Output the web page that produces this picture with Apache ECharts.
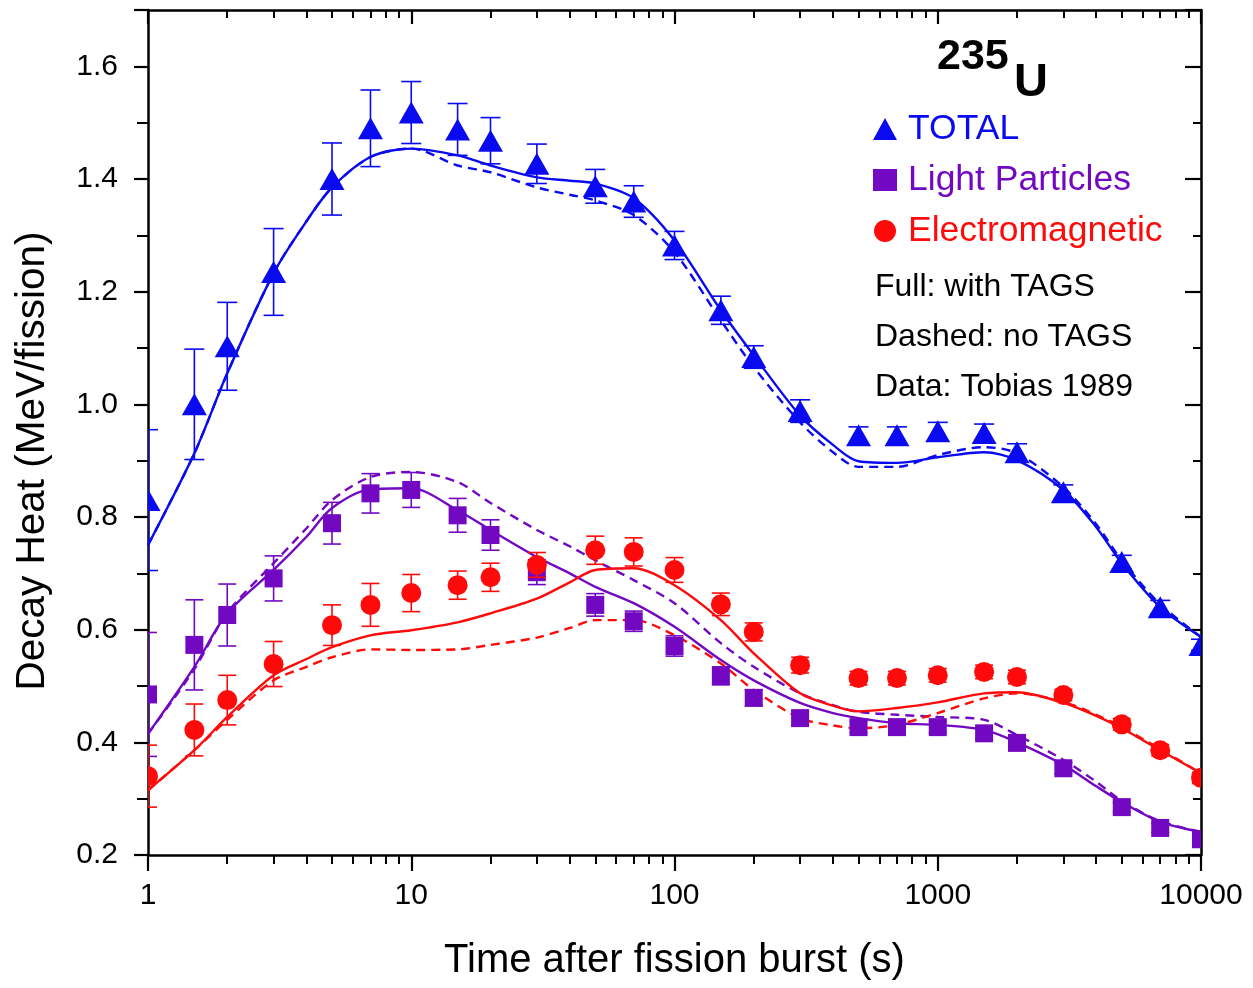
<!DOCTYPE html>
<html>
<head>
<meta charset="utf-8">
<script src="https://cdn.jsdelivr.net/npm/echarts@6/dist/echarts.min.js"></script>
<style>
html,body{margin:0;padding:0;background:#fff;}
#chart{width:1253px;height:988px;}
</style>
</head>
<body>
<div id="chart"></div>
<script>
// ---- data: measured points (Tobias 1989) ----
const tData = [1,1.5,2,3,5,7,10,15,20,30,50,70,100,150,200,300,500,700,1000,1500,2000,3000,5000,7000,10000];

const totalVal = [0.83,1.0,1.103,1.235,1.40,1.49,1.518,1.488,1.468,1.427,1.387,1.36,1.282,1.167,1.084,0.988,0.945,0.945,0.952,0.949,0.915,0.844,0.72,0.64,0.573];
const totalErr = [0.125,0.098,0.078,0.077,0.064,0.068,0.055,0.046,0.041,0.035,0.03,0.028,0.025,0.025,0.02,0.02,0.015,0.015,0.016,0.016,0.015,0.013,0.012,0.012,0.01];

const lpVal = [0.485,0.573,0.626,0.691,0.789,0.842,0.848,0.803,0.768,0.702,0.644,0.615,0.571,0.518,0.479,0.443,0.427,0.427,0.427,0.416,0.399,0.354,0.285,0.248,0.228];
const lpErr = [0.11,0.08,0.055,0.04,0.037,0.035,0.031,0.03,0.027,0.022,0.02,0.018,0.018,0.016,0.014,0.012,0.01,0.01,0.01,0.01,0.01,0.01,0.008,0.008,0.008];

const emVal = [0.34,0.422,0.475,0.539,0.608,0.644,0.665,0.679,0.693,0.715,0.741,0.738,0.706,0.645,0.596,0.537,0.514,0.514,0.519,0.525,0.516,0.484,0.432,0.386,0.337];
const emErr = [0.055,0.046,0.044,0.04,0.036,0.038,0.033,0.025,0.025,0.022,0.025,0.025,0.022,0.02,0.016,0.014,0.012,0.012,0.012,0.012,0.012,0.01,0.01,0.01,0.01];

// ---- model curves (full: with TAGS, dashed: no TAGS) ----
const tCurve = [1,1.5,2,3,4,5,7,10,15,20,30,40,50,70,100,150,200,300,400,500,700,1000,1500,2000,3000,4000,5000,7000,10000];
const totalFull = [0.75,0.913,1.055,1.233,1.325,1.385,1.439,1.454,1.442,1.424,1.403,1.397,1.392,1.366,1.291,1.167,1.087,0.98,0.928,0.899,0.896,0.906,0.915,0.901,0.848,0.782,0.718,0.64,0.587];
const totalDash = [0.75,0.913,1.055,1.233,1.325,1.385,1.439,1.454,1.424,1.412,1.385,1.372,1.362,1.336,1.27,1.149,1.066,0.968,0.915,0.889,0.889,0.91,0.924,0.913,0.853,0.787,0.723,0.645,0.587];
const lpFull = [0.415,0.534,0.629,0.706,0.765,0.816,0.849,0.851,0.812,0.777,0.729,0.70,0.676,0.647,0.605,0.546,0.51,0.47,0.452,0.443,0.434,0.431,0.422,0.40,0.36,0.322,0.294,0.259,0.241];
const lpDash = [0.415,0.53,0.63,0.718,0.78,0.83,0.871,0.88,0.862,0.825,0.777,0.748,0.723,0.688,0.647,0.576,0.534,0.487,0.466,0.454,0.449,0.445,0.44,0.413,0.369,0.33,0.296,0.26,0.241];
const emFull = [0.315,0.386,0.445,0.519,0.548,0.569,0.59,0.599,0.613,0.629,0.655,0.684,0.706,0.709,0.679,0.617,0.558,0.487,0.465,0.455,0.461,0.471,0.487,0.489,0.47,0.447,0.425,0.386,0.345];
const emDash = [0.315,0.386,0.44,0.51,0.534,0.551,0.565,0.564,0.565,0.573,0.586,0.603,0.617,0.617,0.59,0.54,0.493,0.443,0.43,0.425,0.431,0.452,0.478,0.487,0.472,0.449,0.427,0.388,0.345];

const yTicks = [0.2,0.4,0.6,0.8,1.0,1.2,1.4,1.6];

const BLUE = '#0a0af0', PURPLE = '#7208c2', RED = '#ff0a0a';
const FONT = 'Liberation Sans, Arial, sans-serif';

// ---- helpers ----
function curvePts(vals){ return tCurve.map((t,i)=>[t, vals[i]]); }
function errData(vals, errs){ return tData.map((t,i)=>[t, vals[i], errs[i]]); }

function makeRender(shape, w, h, capHalf){
  return function(params, api){
    const t = api.value(0), v = api.value(1), e = api.value(2);
    const p = api.coord([t, v]);
    const top = api.coord([t, v + e]);
    const bot = api.coord([t, v - e]);
    const color = api.visual('color');
    const ls = {stroke: color, lineWidth: 1.6};
    const children = [
      {type:'line', shape:{x1:p[0],y1:top[1],x2:p[0],y2:bot[1]}, style:ls},
      {type:'line', shape:{x1:p[0]-capHalf,y1:top[1],x2:p[0]+capHalf,y2:top[1]}, style:ls},
      {type:'line', shape:{x1:p[0]-capHalf,y1:bot[1],x2:p[0]+capHalf,y2:bot[1]}, style:ls}
    ];
    if (shape === 'triangle') {
      children.push({type:'polygon', shape:{points:[[p[0],p[1]-h/2],[p[0]-w/2,p[1]+h/2],[p[0]+w/2,p[1]+h/2]]}, style:{fill:color}});
    } else if (shape === 'rect') {
      children.push({type:'rect', shape:{x:p[0]-w/2,y:p[1]-h/2,width:w,height:h}, style:{fill:color}});
    } else {
      children.push({type:'circle', shape:{cx:p[0],cy:p[1],r:w/2}, style:{fill:color}});
    }
    return {type:'group', children};
  };
}

function lineSeries(name, vals, color, dashed){
  return {
    name, type:'line', data: curvePts(vals), smooth: 0.3, symbol:'none',
    lineStyle:{color, width:2.4, type: dashed ? [9,6] : 'solid'},
    z: 2, silent: true
  };
}

const axisLine = {show:true, lineStyle:{color:'#000', width:2.5}};

const chart = echarts.init(document.getElementById('chart'), null, {renderer:'canvas'});
chart.setOption({
  animation: false,
  backgroundColor: '#fff',
  grid: {left:148, right:52, top:10, bottom:133, containLabel:false},
  xAxis: [
    {
      type:'log', logBase:10, min:1, max:10000, position:'bottom',
      axisLine,
      axisTick:{show:true, inside:false, length:16, lineStyle:{color:'#000', width:2.2}},
      minorTick:{show:true, splitNumber:9, length:9, lineStyle:{color:'#000', width:2}},
      axisLabel:{fontSize:30, color:'#000', margin:26, fontFamily:FONT, formatter: v => String(v)},
      splitLine:{show:false}, minorSplitLine:{show:false},
      name:'Time after fission burst (s)', nameLocation:'middle', nameGap:86,
      nameTextStyle:{fontSize:40, color:'#000', fontFamily:FONT}
    },
    {
      type:'log', logBase:10, min:1, max:10000, position:'top',
      axisLine,
      axisTick:{show:true, inside:true, length:14, lineStyle:{color:'#000', width:2.2}},
      minorTick:{show:true, splitNumber:9, length:8, lineStyle:{color:'#000', width:2}},
      axisLabel:{show:false}, splitLine:{show:false}
    }
  ],
  yAxis: [
    {
      type:'value', min:0.2, max:1.7, interval:0.2, position:'left',
      axisLine,
      axisTick:{show:true, inside:false, length:14, lineStyle:{color:'#000', width:2.2}},
      minorTick:{show:true, splitNumber:2, length:11, lineStyle:{color:'#000', width:2}},
      axisLabel:{fontSize:30, color:'#000', margin:30, fontFamily:FONT,
        formatter: v => (yTicks.some(t => Math.abs(t - v) < 1e-6) ? v.toFixed(1) : '')},
      splitLine:{show:false}
    },
    {
      type:'value', min:0.2, max:1.7, interval:0.2, position:'right',
      axisLine,
      axisTick:{show:true, inside:true, length:16, lineStyle:{color:'#000', width:2.2}},
      minorTick:{show:true, splitNumber:2, length:8, lineStyle:{color:'#000', width:2}},
      axisLabel:{show:false}, splitLine:{show:false}
    }
  ],
  legend: {
    orient:'vertical', left:868, top:106, itemGap:15, itemWidth:24, itemHeight:22,
    textStyle:{fontSize:35.5, fontFamily:FONT, padding:[0,0,0,6]},
    selectedMode:false,
    data:[
      {name:'TOTAL', icon:'triangle', textStyle:{color:BLUE}},
      {name:'Light Particles', icon:'rect', textStyle:{color:PURPLE}},
      {name:'Electromagnetic', icon:'circle', textStyle:{color:RED}}
    ]
  },
  graphic: [
    {type:'text', x:33, y:461, rotation:Math.PI/2,
      style:{text:'Decay Heat (MeV/fission)', fontSize:40.5, fill:'#000', fontFamily:FONT, align:'center', verticalAlign:'middle'}},
    {type:'text', left:937, top:36, style:{text:'235', fontSize:43, fontWeight:'bold', fill:'#000', fontFamily:FONT}},
    {type:'text', left:1014, top:60, style:{text:'U', fontSize:47, fontWeight:'bold', fill:'#000', fontFamily:FONT}},
    {type:'text', left:875, top:271, style:{text:'Full: with TAGS', fontSize:32, fill:'#000', fontFamily:FONT}},
    {type:'text', left:875, top:321, style:{text:'Dashed: no TAGS', fontSize:32, fill:'#000', fontFamily:FONT}},
    {type:'text', left:875, top:371, style:{text:'Data: Tobias 1989', fontSize:32, fill:'#000', fontFamily:FONT}}
  ],
  series: [
    lineSeries('TOTAL full', totalFull, BLUE, false),
    lineSeries('TOTAL dashed', totalDash, BLUE, true),
    lineSeries('LP full', lpFull, PURPLE, false),
    lineSeries('LP dashed', lpDash, PURPLE, true),
    lineSeries('EM full', emFull, RED, false),
    lineSeries('EM dashed', emDash, RED, true),
    {name:'TOTAL', type:'custom', data: errData(totalVal, totalErr), encode:{x:0,y:1},
      renderItem: makeRender('triangle', 25, 22, 10), itemStyle:{color:BLUE}, clip:true, z:3},
    {name:'Light Particles', type:'custom', data: errData(lpVal, lpErr), encode:{x:0,y:1},
      renderItem: makeRender('rect', 18, 18, 9), itemStyle:{color:PURPLE}, clip:true, z:3},
    {name:'Electromagnetic', type:'custom', data: errData(emVal, emErr), encode:{x:0,y:1},
      renderItem: makeRender('circle', 20, 20, 9), itemStyle:{color:RED}, clip:true, z:3}
  ]
});
</script>
</body>
</html>
